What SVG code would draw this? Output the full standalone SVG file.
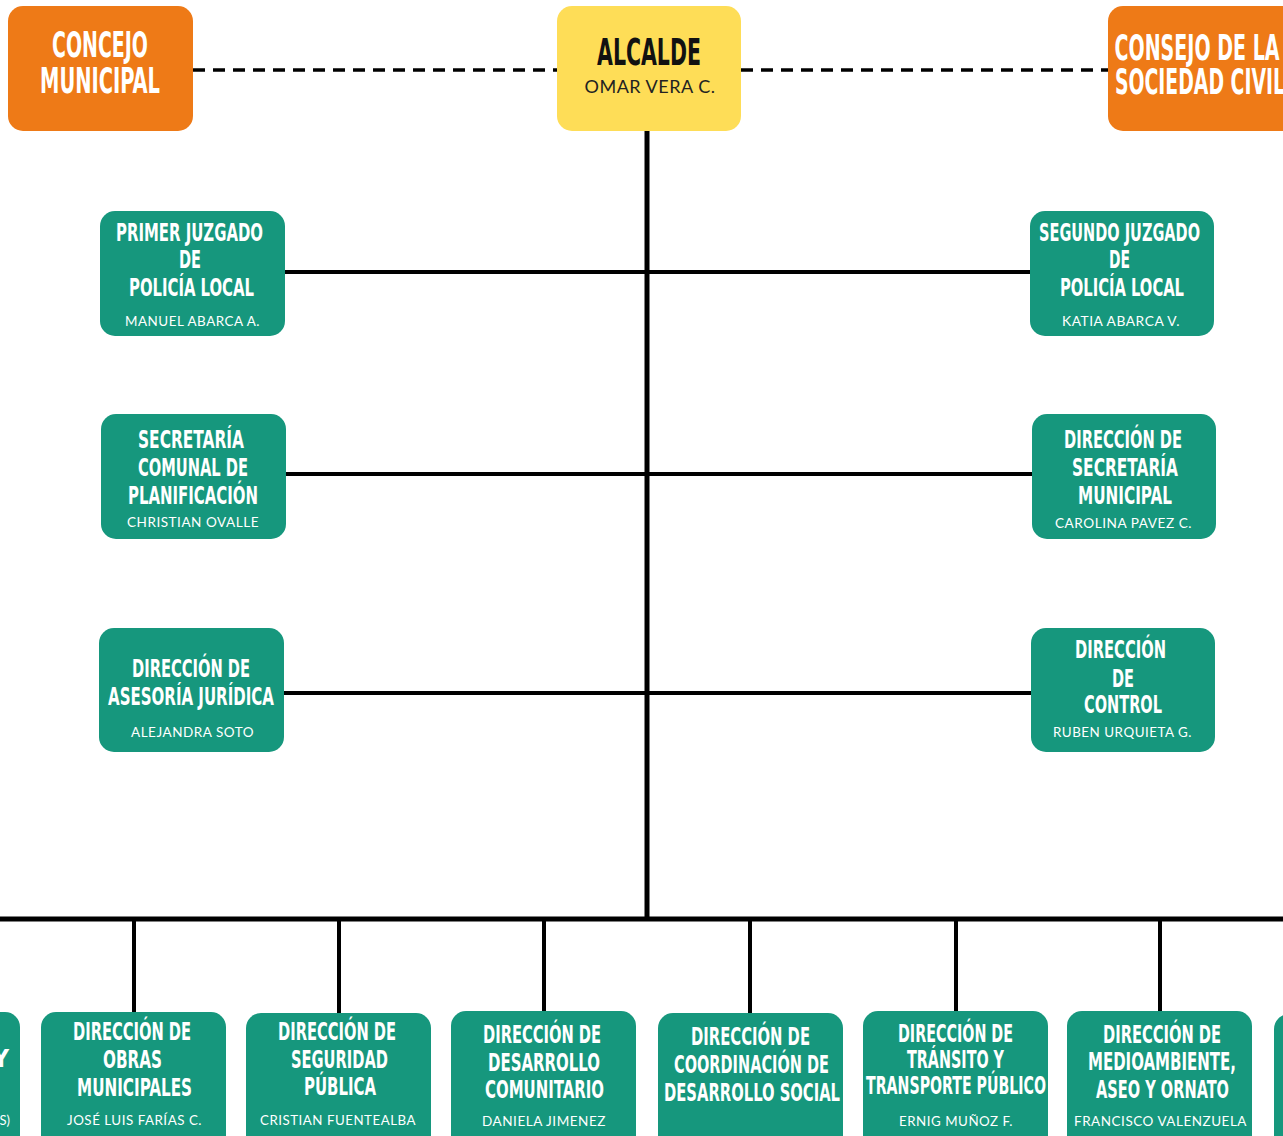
<svg xmlns="http://www.w3.org/2000/svg" width="1283" height="1136" viewBox="0 0 1283 1136">
<style>
.box-o{fill:#EE7A17}
.box-y{fill:#FEDD57}
.box-g{fill:#16977D}
.t{font-family:"DejaVu Sans Condensed","DejaVu Sans","Liberation Sans",sans-serif;font-stretch:condensed;font-weight:bold;font-size:25px;fill:#FFFFFF;text-anchor:middle}
.tb{font-size:35px}
.tk{fill:#111111;font-size:37px}
.s{font-family:Lato,"Liberation Sans",sans-serif;font-size:13px;fill:#FFFFFF;text-anchor:middle;letter-spacing:0.5px}
.sk{fill:#222222;font-size:18px}
.ln{stroke:#000;stroke-width:4;fill:none}
.dash{stroke:#000;stroke-width:3.5;stroke-dasharray:12 8;fill:none}
</style>
<rect width="1283" height="1136" fill="#FFFFFF"/>
<g id="connectors">
<line class="dash" x1="193" y1="70" x2="557" y2="70"/>
<line class="dash" x1="741" y1="70" x2="1108" y2="70"/>
<line class="ln" x1="647" y1="131" x2="647" y2="921" style="stroke-width:5"/>
<line class="ln" x1="285" y1="272" x2="1030" y2="272"/>
<line class="ln" x1="286" y1="474" x2="1032" y2="474"/>
<line class="ln" x1="284" y1="693" x2="1031" y2="693"/>
<line class="ln" x1="0" y1="919" x2="1283" y2="919" style="stroke-width:5"/>
<line class="ln" x1="134" y1="919" x2="134" y2="1012"/>
<line class="ln" x1="339" y1="919" x2="339" y2="1013"/>
<line class="ln" x1="544" y1="919" x2="544" y2="1011"/>
<line class="ln" x1="750" y1="919" x2="750" y2="1013"/>
<line class="ln" x1="956" y1="919" x2="956" y2="1011"/>
<line class="ln" x1="1160" y1="919" x2="1160" y2="1011"/>
</g>
<g id="concejo">
<rect class="box-o" x="8" y="6" width="185" height="125" rx="15"/>
<text class="t tb" x="100" y="57" textLength="96" lengthAdjust="spacingAndGlyphs">CONCEJO</text>
<text class="t tb" x="100" y="93" textLength="120" lengthAdjust="spacingAndGlyphs">MUNICIPAL</text>
</g>
<g id="alcalde">
<rect class="box-y" x="557" y="6" width="184" height="125" rx="15"/>
<text class="t tk" x="649" y="65" textLength="104" lengthAdjust="spacingAndGlyphs">ALCALDE</text>
<text class="s sk" x="650" y="93" textLength="131" lengthAdjust="spacingAndGlyphs">OMAR VERA C.</text>
</g>
<g id="consejo">
<rect class="box-o" x="1108" y="6" width="200" height="125" rx="15"/>
<text class="t tb" x="1197" y="60" textLength="165" lengthAdjust="spacingAndGlyphs">CONSEJO DE LA</text>
<text class="t tb" x="1200" y="94" textLength="170" lengthAdjust="spacingAndGlyphs">SOCIEDAD CIVIL</text>
</g>
<g id="primer-juzgado">
<rect class="box-g" x="100" y="211" width="185" height="125" rx="15"/>
<text class="t" x="189.5" y="241" textLength="147" lengthAdjust="spacingAndGlyphs">PRIMER JUZGADO</text>
<text class="t" x="190" y="268" textLength="22" lengthAdjust="spacingAndGlyphs">DE</text>
<text class="t" x="191.5" y="296" textLength="125" lengthAdjust="spacingAndGlyphs">POLICÍA LOCAL</text>
<text class="s" x="192.5" y="326" textLength="135" lengthAdjust="spacingAndGlyphs">MANUEL ABARCA A.</text>
</g>
<g id="segundo-juzgado">
<rect class="box-g" x="1030" y="211" width="184" height="125" rx="15"/>
<text class="t" x="1119.5" y="241" textLength="161" lengthAdjust="spacingAndGlyphs">SEGUNDO JUZGADO</text>
<text class="t" x="1119.5" y="268" textLength="21" lengthAdjust="spacingAndGlyphs">DE</text>
<text class="t" x="1122" y="296" textLength="124" lengthAdjust="spacingAndGlyphs">POLICÍA LOCAL</text>
<text class="s" x="1121" y="326" textLength="118" lengthAdjust="spacingAndGlyphs">KATIA ABARCA V.</text>
</g>
<g id="secplan">
<rect class="box-g" x="101" y="414" width="185" height="125" rx="15"/>
<text class="t" x="191" y="448" textLength="106" lengthAdjust="spacingAndGlyphs">SECRETARÍA</text>
<text class="t" x="193" y="476" textLength="110" lengthAdjust="spacingAndGlyphs">COMUNAL DE</text>
<text class="t" x="193" y="504" textLength="130" lengthAdjust="spacingAndGlyphs">PLANIFICACIÓN</text>
<text class="s" x="193" y="527" textLength="132" lengthAdjust="spacingAndGlyphs">CHRISTIAN OVALLE</text>
</g>
<g id="secretaria-municipal">
<rect class="box-g" x="1032" y="414" width="184" height="125" rx="15"/>
<text class="t" x="1123" y="448" textLength="118" lengthAdjust="spacingAndGlyphs">DIRECCIÓN DE</text>
<text class="t" x="1125" y="476" textLength="106" lengthAdjust="spacingAndGlyphs">SECRETARÍA</text>
<text class="t" x="1125" y="504" textLength="94" lengthAdjust="spacingAndGlyphs">MUNICIPAL</text>
<text class="s" x="1123.5" y="528" textLength="137" lengthAdjust="spacingAndGlyphs">CAROLINA PAVEZ C.</text>
</g>
<g id="asesoria-juridica">
<rect class="box-g" x="99" y="628" width="185" height="124" rx="15"/>
<text class="t" x="191" y="677" textLength="118" lengthAdjust="spacingAndGlyphs">DIRECCIÓN DE</text>
<text class="t" x="191" y="705" textLength="166" lengthAdjust="spacingAndGlyphs">ASESORÍA JURÍDICA</text>
<text class="s" x="192.5" y="737" textLength="123" lengthAdjust="spacingAndGlyphs">ALEJANDRA SOTO</text>
</g>
<g id="control">
<rect class="box-g" x="1031" y="628" width="184" height="124" rx="15"/>
<text class="t" x="1120.5" y="658" textLength="91" lengthAdjust="spacingAndGlyphs">DIRECCIÓN</text>
<text class="t" x="1123" y="687" textLength="22" lengthAdjust="spacingAndGlyphs">DE</text>
<text class="t" x="1123" y="713" textLength="78" lengthAdjust="spacingAndGlyphs">CONTROL</text>
<text class="s" x="1122.5" y="737" textLength="139" lengthAdjust="spacingAndGlyphs">RUBEN URQUIETA G.</text>
</g>
<g id="partial-left">
<rect class="box-g" x="-170" y="1012" width="190" height="140" rx="15"/>
<text class="t" x="9" y="1067" style="text-anchor:end">Y</text>
<text class="s" x="10" y="1125" style="text-anchor:end;letter-spacing:0">S)</text>
</g>
<g id="obras">
<rect class="box-g" x="41" y="1012" width="185" height="140" rx="15"/>
<text class="t" x="132" y="1040" textLength="118" lengthAdjust="spacingAndGlyphs">DIRECCIÓN DE</text>
<text class="t" x="132.5" y="1068" textLength="59" lengthAdjust="spacingAndGlyphs">OBRAS</text>
<text class="t" x="134.5" y="1096" textLength="115" lengthAdjust="spacingAndGlyphs">MUNICIPALES</text>
<text class="s" x="134.5" y="1125" textLength="135" lengthAdjust="spacingAndGlyphs">JOSÉ LUIS FARÍAS C.</text>
</g>
<g id="seguridad">
<rect class="box-g" x="246" y="1013" width="185" height="140" rx="15"/>
<text class="t" x="337" y="1040" textLength="118" lengthAdjust="spacingAndGlyphs">DIRECCIÓN DE</text>
<text class="t" x="339.5" y="1068" textLength="97" lengthAdjust="spacingAndGlyphs">SEGURIDAD</text>
<text class="t" x="340" y="1095" textLength="72" lengthAdjust="spacingAndGlyphs">PÚBLICA</text>
<text class="s" x="338" y="1125" textLength="156" lengthAdjust="spacingAndGlyphs">CRISTIAN FUENTEALBA</text>
</g>
<g id="desarrollo-comunitario">
<rect class="box-g" x="451" y="1011" width="185" height="140" rx="15"/>
<text class="t" x="542" y="1043" textLength="118" lengthAdjust="spacingAndGlyphs">DIRECCIÓN DE</text>
<text class="t" x="544" y="1071" textLength="112" lengthAdjust="spacingAndGlyphs">DESARROLLO</text>
<text class="t" x="544.5" y="1098" textLength="119" lengthAdjust="spacingAndGlyphs">COMUNITARIO</text>
<text class="s" x="544" y="1126" textLength="124" lengthAdjust="spacingAndGlyphs">DANIELA JIMENEZ</text>
</g>
<g id="coordinacion-social">
<rect class="box-g" x="658" y="1013" width="185" height="140" rx="15"/>
<text class="t" x="750.5" y="1045" textLength="119" lengthAdjust="spacingAndGlyphs">DIRECCIÓN DE</text>
<text class="t" x="751.5" y="1073" textLength="155" lengthAdjust="spacingAndGlyphs">COORDINACIÓN DE</text>
<text class="t" x="752" y="1101" textLength="176" lengthAdjust="spacingAndGlyphs">DESARROLLO SOCIAL</text>
</g>
<g id="transito">
<rect class="box-g" x="863" y="1011" width="185" height="140" rx="15"/>
<text class="t" x="955.5" y="1042" textLength="115" lengthAdjust="spacingAndGlyphs">DIRECCIÓN DE</text>
<text class="t" x="955.5" y="1068" textLength="97" lengthAdjust="spacingAndGlyphs">TRÁNSITO Y</text>
<text class="t" x="956" y="1094" textLength="180" lengthAdjust="spacingAndGlyphs">TRANSPORTE PÚBLICO</text>
<text class="s" x="956" y="1126" textLength="114" lengthAdjust="spacingAndGlyphs">ERNIG MUÑOZ F.</text>
</g>
<g id="medioambiente">
<rect class="box-g" x="1067" y="1011" width="185" height="140" rx="15"/>
<text class="t" x="1162" y="1043" textLength="118" lengthAdjust="spacingAndGlyphs">DIRECCIÓN DE</text>
<text class="t" x="1162" y="1070" textLength="148" lengthAdjust="spacingAndGlyphs">MEDIOAMBIENTE,</text>
<text class="t" x="1162.5" y="1098" textLength="133" lengthAdjust="spacingAndGlyphs">ASEO Y ORNATO</text>
<text class="s" x="1160.5" y="1126" textLength="173" lengthAdjust="spacingAndGlyphs">FRANCISCO VALENZUELA</text>
</g>
<g id="partial-right">
<rect class="box-g" x="1274" y="1014" width="190" height="140" rx="15"/>
</g>
</svg>
